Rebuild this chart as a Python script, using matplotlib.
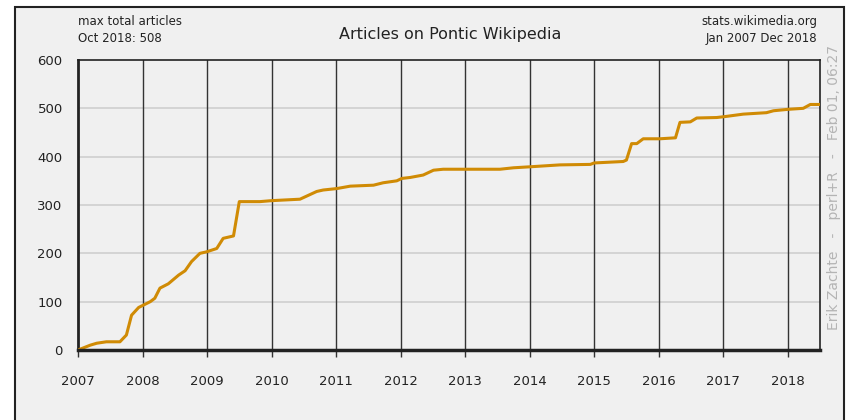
import matplotlib.pyplot as plt
from matplotlib.patches import Rectangle

# monthly readings (decimal year, total articles)
years = [2007.0, 2007.19, 2007.29, 2007.44, 2007.65, 2007.75, 2007.83, 2007.94,
         2008.12, 2008.19, 2008.27, 2008.40, 2008.56, 2008.66, 2008.76, 2008.89,
         2008.99, 2009.15, 2009.25, 2009.41, 2009.50, 2009.82, 2010.0, 2010.44,
         2010.70, 2010.80, 2011.01, 2011.22, 2011.58, 2011.73, 2011.94, 2012.02,
         2012.15, 2012.35, 2012.51, 2012.66, 2013.39, 2013.54, 2013.75, 2014.0,
         2014.47, 2014.94, 2015.0, 2015.45, 2015.5, 2015.58, 2015.66, 2015.76,
         2016.02, 2016.26, 2016.33, 2016.49, 2016.59, 2016.90, 2017.03, 2017.31,
         2017.67, 2017.78, 2018.01, 2018.24, 2018.35, 2018.5]
articles = [0, 10, 14, 17, 17, 31, 72, 88,
            100, 107, 128, 137, 155, 164, 183, 200,
            203, 210, 231, 236, 307, 307, 309, 312,
            328, 331, 334, 339, 341, 346, 350, 355,
            357, 362, 372, 374, 374, 374, 377, 379,
            383, 384, 387, 390, 393, 427, 427, 437,
            437, 439, 471, 472, 480, 481, 483, 488,
            491, 495, 498, 500, 508, 508]

year_ticks = list(range(2007, 2019))
y_ticks = [0, 100, 200, 300, 400, 500, 600]

bg = '#f0f0f0'
fig = plt.figure(figsize=(8.48, 4.20), dpi=100)
fig.patch.set_facecolor('white')
fig.patches.append(Rectangle((15/848, -0.1), 829/848, 1.1 - 7/420, transform=fig.transFigure,
                             facecolor=bg, edgecolor='#222222', linewidth=1.5, zorder=-10))

ax = fig.add_axes([78/848, 70/420, 742/848, 290/420])
ax.set_facecolor(bg)
ax.plot(years, articles, color='#d08b05', linewidth=2.2, solid_joinstyle='round', zorder=3)

ax.set_xlim(2007, 2018.5)
ax.set_ylim(0, 600)
ax.set_xticks(year_ticks)
ax.set_xticklabels([str(y) for y in year_ticks])
ax.set_yticks(y_ticks)
for y in y_ticks[1:-1]:
    ax.axhline(y, color='#d2d2d2', linewidth=1.3, zorder=1)
for x in year_ticks[1:]:
    ax.axvline(x, color='#333333', linewidth=1.0, zorder=2)

ax.tick_params(axis='x', length=5, width=1, color='#333333', pad=13, labelsize=9.5, labelcolor='#222222')
ax.tick_params(axis='y', length=0, pad=11, labelsize=9.5, labelcolor='#222222')
for s in ax.spines.values():
    s.set_color('#222222')
    s.set_linewidth(1.2)
ax.spines['left'].set_linewidth(2)
ax.spines['bottom'].set_linewidth(2.5)
ax.spines['bottom'].set_zorder(4)

fig.text(450/848, 1 - 35/420, 'Articles on Pontic Wikipedia', ha='center', va='center',
         fontsize=11.5, color='#222222')
fig.text(78/848, 1 - 30/420, 'max total articles\nOct 2018: 508', ha='left', va='center',
         fontsize=8.5, color='#222222', linespacing=1.45)
fig.text(817/848, 1 - 30/420, 'stats.wikimedia.org\nJan 2007 Dec 2018', ha='right', va='center',
         fontsize=8.5, color='#222222', linespacing=1.45)
fig.text(834/848, 1 - 188/420, 'Erik Zachte   -   perl+R   -   Feb 01, 06:27', ha='center', va='center',
         rotation=90, fontsize=10, color='#b4b4b4')

fig.savefig('out.png', dpi=100, facecolor=fig.get_facecolor())
